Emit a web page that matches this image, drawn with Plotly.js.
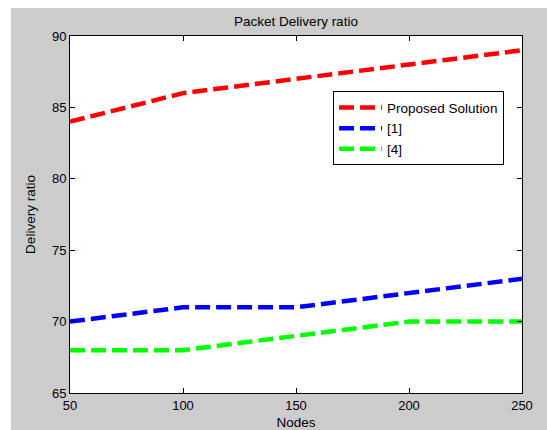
<!DOCTYPE html>
<html>
<head>
<meta charset="utf-8">
<script src="https://cdn.plot.ly/plotly-3.0.1.min.js"></script>
<style>
html,body{margin:0;padding:0;background:#ffffff;}
#chart{position:absolute;left:11px;top:8px;width:536px;height:422px;}
</style>
</head>
<body>
<div id="chart"></div>
<script>
const nodes = [50, 100, 150, 200, 250];
const proposed = [84, 86, 87, 88, 89];
const ref1 = [70, 71, 71, 72, 73];
const ref4 = [68, 68, 69, 70, 70];
const seriesNames = ['Proposed Solution', '[1]', '[4]'];
const xTicks = [50, 100, 150, 200, 250];
const yTicks = [65, 70, 75, 80, 85, 90];

const lineStyle = c => ({color: c, width: 4.5, dash: '15px,6px'});
const data = [
  {x: nodes, y: proposed, name: seriesNames[0], mode: 'lines', line: lineStyle('#ff0000')},
  {x: nodes, y: ref1, name: seriesNames[1], mode: 'lines', line: lineStyle('#0000ff')},
  {x: nodes, y: ref4, name: seriesNames[2], mode: 'lines', line: lineStyle('#00ff00')}
];
const font = {family: 'Liberation Sans, Arial, sans-serif', size: 13, color: '#000000'};
const bigFont = {family: 'Liberation Sans, Arial, sans-serif', size: 13.5, color: '#000000'};
const axisCommon = {
  showline: true, mirror: 'ticks', linecolor: '#000000', linewidth: 1,
  ticks: 'inside', ticklen: 5, tickcolor: '#000000', showgrid: false, zeroline: false,
  tickfont: font
};
const layout = {
  width: 536, height: 422,
  margin: {l: 59, r: 25, t: 28, b: 37},
  paper_bgcolor: '#cccccc', plot_bgcolor: '#ffffff',
  font: font,
  title: {text: 'Packet Delivery ratio', font: bigFont, x: 0.5, xref: 'paper', y: 1, yref: 'paper', yanchor: 'bottom', pad: {b: 10}},
  xaxis: Object.assign({}, axisCommon, {range: [50, 250], tickvals: xTicks, title: {text: 'Nodes', font: bigFont, standoff: 5}}),
  yaxis: Object.assign({}, axisCommon, {range: [65, 90], tickvals: yTicks, title: {text: 'Delivery ratio', font: bigFont, standoff: 13}}),
  legend: {x: 0.582, y: 0.845, xanchor: 'left', yanchor: 'top', bgcolor: '#ffffff', bordercolor: '#000000', borderwidth: 1, font: bigFont, tracegroupgap: 0, itemwidth: 43},
  showlegend: true
};
Plotly.newPlot('chart', data, layout, {displayModeBar: false, staticPlot: true});
</script>
</body>
</html>
